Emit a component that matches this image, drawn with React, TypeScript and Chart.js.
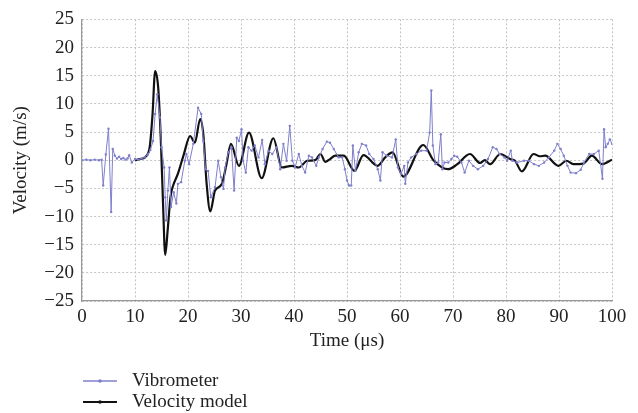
import React, { useEffect, useRef } from "react";
import { Chart, registerables } from "chart.js";

Chart.register(...registerables);

const vibT = [0, 0.8, 1.6, 2.4, 3.2, 3.7, 4.0, 4.5, 5.0, 5.5, 5.8, 6.2, 6.6, 7.0, 7.4, 7.8, 8.2, 8.6, 8.9, 9.4, 10.0, 10.6, 11.2, 11.8, 12.4, 12.9, 13.4, 13.8, 14.2, 14.7, 15.0, 15.5, 15.7, 15.9, 16.2, 16.5, 16.8, 17.3, 17.8, 18.1, 18.7, 19.4, 19.7, 20.2, 21.0, 21.9, 22.5, 22.9, 23.3, 23.8, 24.3, 25.1, 25.7, 26.2, 26.7, 27.0, 27.6, 28.2, 28.7, 29.2, 29.6, 30.1, 30.4, 30.9, 31.4, 32.0, 32.6, 33.3, 34.0, 34.5, 35.2, 35.9, 36.7, 37.4, 38.0, 38.6, 39.2, 39.7, 40.2, 40.9, 41.5, 42.1, 42.8, 43.4, 44.2, 44.7, 45.4, 46.2, 46.8, 47.5, 48.4, 49.1, 49.6, 50.0, 50.4, 50.8, 51.1, 51.6, 52.2, 52.8, 53.6, 54.2, 55.0, 55.8, 56.3, 56.7, 57.5, 58.5, 59.2, 59.6, 60.2, 60.8, 61.0, 61.5, 62.1, 63.1, 64.0, 65.0, 65.6, 65.9, 66.2, 66.7, 67.2, 67.7, 68.0, 68.4, 69.1, 69.7, 70.2, 70.8, 71.6, 72.2, 73.0, 73.8, 74.7, 75.7, 76.6, 77.5, 78.2, 78.8, 79.7, 80.2, 80.9, 81.2, 82.1, 83.4, 84.3, 85.3, 86.2, 87.2, 88.1, 89.1, 89.7, 90.3, 90.9, 91.6, 92.2, 93.2, 94.1, 94.7, 95.7, 96.6, 97.5, 98.2, 98.5, 98.8, 99.2, 99.6, 100];
const vibV = [0, 0.1, 0, 0.1, 0, 0.1, -4.5, 1.0, 5.6, -9.2, 2.0, 0.8, 0.3, 0.6, 0.2, 0.4, 0.1, 0.3, 0.9, -0.4, 0.2, 0.1, 0.3, 0.5, 1.0, 1.8, 3.4, 8.2, 11.7, 7.6, 2.3, -1.3, -6.6, -10.7, -5.4, -1.3, -8.3, -5.7, -7.7, -4.2, -3.9, -0.1, 1.1, -0.7, 2.9, 9.3, 8.2, 3.4, -1.6, -1.9, -6.6, -4.8, -0.1, -3.0, -5.1, -1.3, 1.4, 2.3, -5.4, 4.0, 3.4, 5.5, -0.1, -2.2, 2.3, 1.7, 2.6, 0.5, 3.6, -0.7, 1.7, 1.1, 2.3, -1.6, 2.9, -0.1, 6.1, -0.1, -1.3, 1.1, -1.0, -2.2, 0.8, 0.5, -1.0, 0.5, 2.0, 3.3, 3.1, 2.0, 0.5, 0.5, -1.6, -3.6, -4.5, -4.5, 2.6, -1.9, 1.4, 2.9, 2.6, 1.1, 0.2, -1.6, -3.6, 1.4, 0.8, 0.5, 3.7, -1.3, -2.4, -1.0, -4.2, -0.4, 0.5, 1.1, 1.7, 1.7, 4.9, 12.4, 2.6, -0.7, -0.4, 4.6, -1.6, -0.4, -0.4, 0.2, 0.8, 0.6, -0.4, -2.2, -0.1, -1.0, -1.6, -1.0, 0.2, 2.3, 2.0, 1.1, 0.5, -0.1, 1.7, -0.1, -0.4, -0.1, -0.1, -0.7, -1.0, -0.4, 0.5, 1.7, 2.9, 2.0, 0.8, -1.0, -2.2, -2.3, -1.7, -0.4, 1.1, 1.1, 1.7, -3.3, 5.5, 2.3, 2.9, 3.7, 2.9];

const modelT = [10, 11, 12.2, 12.8, 13.3, 13.8, 14.4, 14.9, 15.3, 15.7, 16.2, 16.7, 17.2, 18.1, 19.2, 20.4, 21.3, 22.3, 22.9, 23.5, 24.2, 25.1, 26.4, 27.2, 28.1, 29.6, 31.5, 33.9, 36.1, 37.7, 39.6, 40.9, 42.5, 44, 45, 45.9, 46.8, 47.8, 49.4, 51.4, 53.1, 55.8, 57.2, 58.6, 60.6, 64.4, 66.3, 69.1, 70.7, 73.2, 75.1, 76.0, 77, 78.9, 80.8, 81.7, 83, 85.2, 86.4, 87.4, 89.9, 91.4, 92.7, 94.6, 96.2, 98.1, 100];
const modelV = [0, 0.2, 0.8, 2.5, 8, 15.8, 12.6, 3, -8, -16.8, -12, -6.5, -4.5, -2.4, 1.0, 4.3, 3.1, 7.3, 4.5, -4, -9.1, -5.4, -4.2, -1, 2.9, -1.0, 4.9, -3.2, 3.9, -1.3, -1.0, -1.3, -0.1, 0, 1.1, -0.3, 0.2, 0.8, 0.8, -1.9, 0.9, -1.0, 0.5, 1.4, -2.9, 2.7, 0, -1.6, -0.8, 1.1, -0.5, 0, -0.7, 1.1, 0.2, -0.1, -2.0, 1.1, 0.7, 0.8, -1.0, -0.1, -0.7, -0.6, 0.8, -0.7, 0.1];

const seriesNames = ["Vibrometer", "Velocity model"];
const seriesColors = ["#7f7fcc", "#111111"];

const FONT = '"Liberation Serif", "Times New Roman", serif';

export default function App() {
  const ref = useRef<HTMLCanvasElement | null>(null);
  useEffect(() => {
    if (!ref.current) return;
    const legendPlugin = {
      id: "customLegend",
      afterDraw(chart: any) {
        const ctx = chart.ctx;
        ctx.save();
        const rows = [381, 402];
        seriesNames.forEach((name, i) => {
          const y = rows[i];
          ctx.strokeStyle = seriesColors[i];
          ctx.lineWidth = i === 0 ? 1.5 : 2;
          ctx.beginPath();
          ctx.moveTo(83, y);
          ctx.lineTo(117, y);
          ctx.stroke();
          ctx.fillStyle = seriesColors[i];
          ctx.beginPath();
          ctx.arc(100, y, 1.8, 0, Math.PI * 2);
          ctx.fill();
          ctx.fillStyle = "#222";
          ctx.font = "19px " + FONT;
          ctx.textBaseline = "middle";
          ctx.textAlign = "left";
          ctx.fillText(name, 132, y);
        });
        ctx.restore();
      },
    };
    const chart = new Chart(ref.current, {
      type: "line",
      data: {
        datasets: [
          {
            label: seriesNames[0],
            data: vibT.map((t, i) => ({ x: t, y: vibV[i] })),
            borderColor: seriesColors[0],
            backgroundColor: seriesColors[0],
            borderWidth: 1,
            pointRadius: 1.2,
            pointBorderWidth: 0,
            tension: 0,
          },
          {
            label: seriesNames[1],
            data: modelT.map((t, i) => ({ x: t, y: modelV[i] })),
            borderColor: seriesColors[1],
            backgroundColor: seriesColors[1],
            borderWidth: 2.2,
            pointRadius: 0,
            cubicInterpolationMode: "monotone",
          },
        ],
      },
      options: {
        animation: false,
        responsive: true,
        maintainAspectRatio: false,
        layout: { padding: { left: 0, right: 26, top: 18, bottom: 57 } },
        plugins: { legend: { display: false }, tooltip: { enabled: false } },
        scales: {
          x: {
            type: "linear",
            min: 0,
            max: 100,
            afterFit: (s: any) => {
              s.height = 55;
            },
            ticks: {
              stepSize: 10,
              padding: 5,
              color: "#222",
              font: { family: FONT, size: 19 },
              maxRotation: 0,
            },
            grid: { color: "#c4c4c4", drawTicks: false, lineWidth: 1 },
            border: { color: "#999", width: 1.2, dash: [2, 2] },
            title: {
              display: true,
              text: "Time (μs)",
              color: "#222",
              font: { family: FONT, size: 19 },
              padding: { top: 0, bottom: 4 },
            },
          },
          y: {
            min: -25,
            max: 25,
            afterFit: (s: any) => {
              s.width = 82;
            },
            ticks: {
              stepSize: 5,
              padding: 8,
              color: "#222",
              font: { family: FONT, size: 19 },
              callback: (v: any) => String(v).replace("-", "\u2212"),
            },
            grid: { color: "#c4c4c4", drawTicks: false, lineWidth: 1 },
            border: { color: "#999", width: 1.2, dash: [2, 2] },
            title: {
              display: true,
              text: "Velocity (m/s)",
              color: "#222",
              font: { family: FONT, size: 19 },
              padding: { top: 10, bottom: 0 },
            },
          },
        },
      },
      plugins: [legendPlugin],
    } as any);
    return () => chart.destroy();
  }, []);
  return (
    <div style={{ position: "fixed", left: 0, top: 0, width: 638, height: 413, background: "#fff" }}>
      <canvas ref={ref} />
    </div>
  );
}
